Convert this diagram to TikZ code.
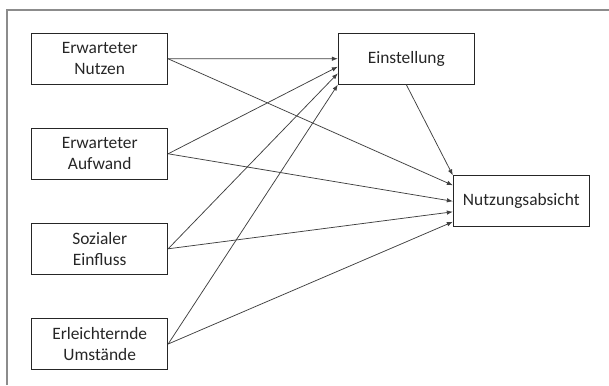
\documentclass[tikz,border=0pt]{standalone}
\usepackage{fontspec}
\setmainfont{Carlito}
\usetikzlibrary{arrows.meta,calc}
\begin{document}
\begin{tikzpicture}[x=1pt,y=-1pt,
 box/.style={draw=black!85, line width=0.9pt, minimum width=136pt, minimum height=51pt, inner sep=0pt, align=center, font=\fontsize{17.4}{21}\selectfont, text=black!85},
 arr/.style={draw=black!75, line width=0.75pt, -{Latex[length=6pt,width=4.5pt]}}]
\useasboundingbox (0,0) rectangle (609,385);
\draw[black!45, line width=1.5pt] (7,385) -- (7,10) -- (609,10);
\node[box] (nutzen) at (99.7,58.8) {Erwarteter\\Nutzen};
\node[box] (aufwand) at (99.7,153.8) {Erwarteter\\Aufwand};
\node[box] (sozial) at (99.7,248.8) {Sozialer\\Einfluss};
\node[box] (umst) at (99.7,344) {Erleichternde\\Umstände};
\node[box] (einst) at (406.3,58.7) {Einstellung};
\node[box] (absicht) at (521.3,201.3) {Nutzungsabsicht};
\draw[arr] (nutzen.east) -- (einst.west);
\draw[arr] (nutzen.east) -- ($(absicht.west)+(0,-16)$);
\draw[arr] (aufwand.east) -- ($(einst.west)+(0,8)$);
\draw[arr] (aufwand.east) -- (absicht.west);
\draw[arr] (sozial.east) -- ($(einst.west)+(0,14.6)$);
\draw[arr] (sozial.east) -- ($(absicht.west)+(0,10.5)$);
\draw[arr] (umst.east) -- (einst.south west);
\draw[arr] (umst.east) -- ($(absicht.west)+(0,20.5)$);
\draw[arr] (einst.south) -- (absicht.north west);
\end{tikzpicture}
\end{document}
